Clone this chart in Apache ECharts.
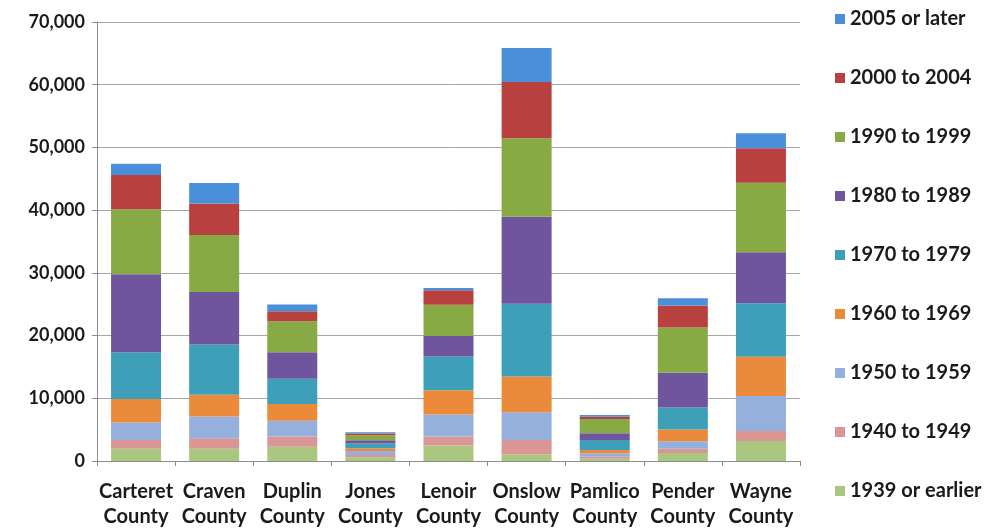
<!DOCTYPE html>
<html>
<head>
<meta charset="utf-8">
<script src="https://cdn.jsdelivr.net/npm/echarts@6/dist/echarts.min.js"></script>
<style>html,body{margin:0;padding:0;background:#fff;}#c{width:990px;height:531px;}</style>
</head>
<body>
<div id="c"></div>
<script>
const categories = ["Carteret\nCounty","Craven\nCounty","Duplin\nCounty","Jones\nCounty","Lenoir\nCounty","Onslow\nCounty","Pamlico\nCounty","Pender\nCounty","Wayne\nCounty"];
const seriesNames = ["1939 or earlier","1940 to 1949","1950 to 1959","1960 to 1969","1970 to 1979","1980 to 1989","1990 to 1999","2000 to 2004","2005 or later"];
const y1939 = [1970, 1970, 2290, 600, 2470, 1070, 370, 1280, 3200];
const y1940 = [1390, 1660, 1600, 350, 1450, 2290, 320, 690, 1600];
const y1950 = [2770, 3460, 2510, 650, 3500, 4430, 530, 1180, 5550];
const y1960 = [3740, 3470, 2670, 450, 3870, 5700, 540, 1860, 6290];
const y1970 = [7460, 8000, 4050, 750, 5380, 11580, 1590, 3520, 8530];
const y1980 = [12430, 8370, 4210, 500, 3280, 13860, 1060, 5550, 8110];
const y1990 = [10400, 9120, 4960, 800, 4950, 12540, 2290, 7200, 11090];
const y2000 = [5440, 5020, 1600, 300, 2310, 8960, 370, 3520, 5500];
const y2005 = [1810, 3250, 1070, 200, 380, 5440, 270, 1170, 2400];
const yTicks = [0, 10000, 20000, 30000, 40000, 50000, 60000, 70000];
const colors = ["#aac77f","#d99694","#95b0dc","#ec8a3c","#3d9fb8","#6e559d","#88aa45","#b8403e","#4a8fd9"];
const values = [y1939,y1940,y1950,y1960,y1970,y1980,y1990,y2000,y2005];

const font = "Lato, 'Open Sans', sans-serif";
const chart = echarts.init(document.getElementById('c'));
chart.setOption({
  animation: false,
  backgroundColor: '#fff',
  grid: {left: 97, right: 190, top: 22, bottom: 70},
  legend: {
    orient: 'vertical', left: 830, top: 4,
    itemWidth: 10, itemHeight: 10, itemGap: 39,
    icon: 'rect',
    data: seriesNames.slice().reverse(),
    textStyle: {fontFamily: font, fontWeight: 'bold', fontSize: 20, color: '#1a1a1a', padding: [0,0,0,0]}
  },
  xAxis: {
    type: 'category', data: categories,
    axisLine: {lineStyle: {color: '#8c8c8c', width: 1}},
    axisTick: {show: true, alignWithLabel: false, length: 5, lineStyle: {color: '#8c8c8c'}},
    axisLabel: {fontFamily: font, fontWeight: 'bold', fontSize: 20, color: '#1a1a1a', lineHeight: 25, margin: 18, interval: 0}
  },
  yAxis: {
    type: 'value', min: 0, max: 70000, interval: 10000,
    axisLine: {show: true, lineStyle: {color: '#8c8c8c', width: 1}},
    axisTick: {show: true, length: 5, lineStyle: {color: '#8c8c8c'}},
    splitLine: {lineStyle: {color: '#a6a6a6', width: 1}},
    axisLabel: {fontFamily: font, fontWeight: 'bold', fontSize: 18, color: '#1a1a1a', margin: 12,
      formatter: v => yTicks.includes(v) ? v.toLocaleString('en-US') : ''}
  },
  series: seriesNames.map((n, i) => ({
    name: n, type: 'bar', stack: 'total', data: values[i],
    barWidth: 50, itemStyle: {color: colors[i]}
  }))
});
</script>
</body>
</html>
